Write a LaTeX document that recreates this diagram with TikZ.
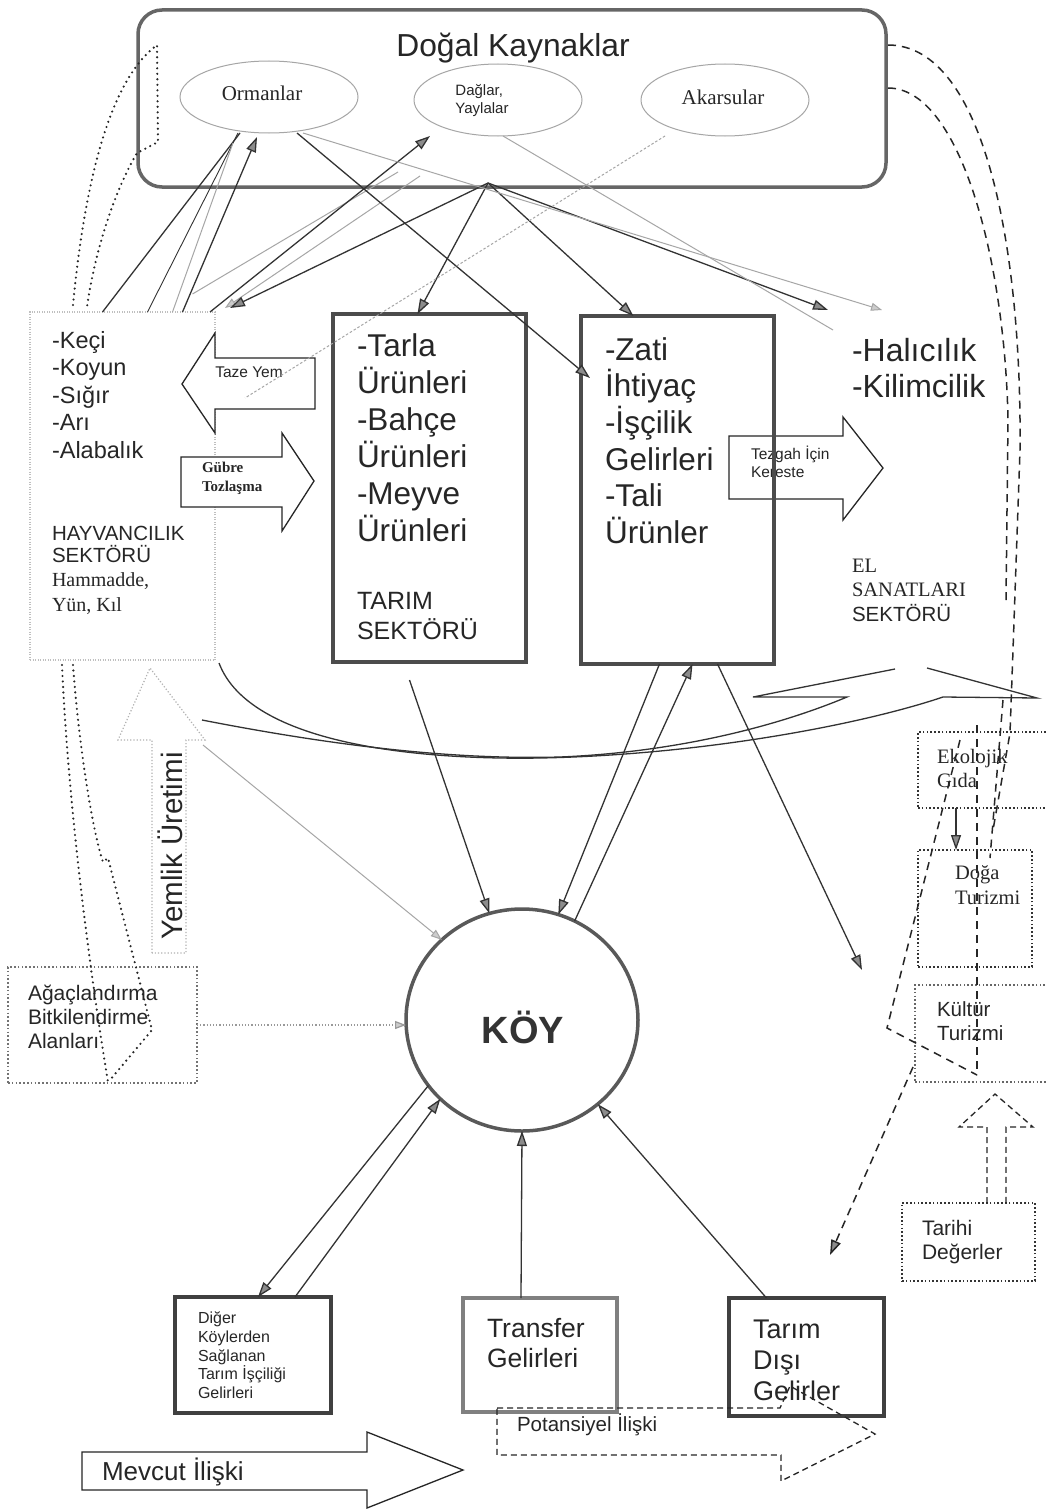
\documentclass[tikz,border=0pt]{standalone}
\usepackage{fontspec}
\setmainfont{Liberation Sans}
\newfontfamily\seriff{Liberation Serif}
\usetikzlibrary{arrows.meta,shapes.geometric}
\begin{document}
\begin{tikzpicture}[x=1pt,y=-1pt,
  txt/.style={inner sep=0pt, outer sep=0pt, align=left, anchor=base west, text=black!85},
  ln/.style={draw=black!80, line width=1.3pt},
  gln/.style={draw=black!35, line width=1pt},
  hd/.style={-{Triangle[length=15pt,width=10pt,fill=black!45]}},
  ghd/.style={-{Triangle[length=11pt,width=8pt,fill=black!20]}},
  thickbox/.style={draw=black!70, line width=4pt, inner sep=0pt, outer sep=0pt},
  dotbox/.style={draw=black!80, line width=1.6pt, dash pattern=on 1.6pt off 2.2pt, inner sep=0pt, outer sep=0pt},
  dsh/.style={draw=black!85, line width=1.5pt, dash pattern=on 8pt off 6pt},
  dts/.style={draw=black!85, line width=2.4pt, dash pattern=on 0pt off 5.5pt, line cap=round},
  blk/.style={draw=black!85, line width=1.3pt, fill=white},
  ell/.style={ellipse, draw=black!35, line width=1pt, inner sep=0pt, outer sep=0pt}
]
\fill[white] (0,0) rectangle (1045,1512);
\useasboundingbox (0,0) rectangle (1045,1512);

% ---------- Natural resources ----------
\node[draw=black!60, line width=3.5pt, rounded corners=24pt, minimum width=748pt, minimum height=177pt, inner sep=0pt, outer sep=0pt] (dogal) at (512,98.5) {};
\node[inner sep=0pt, text=black!85, font=\fontsize{31.8}{36}\selectfont] (dogalt) at (513,48) {Doğal Kaynaklar};
\node[ell, minimum width=178pt, minimum height=72pt] (orm) at (269,97) {};
\node[ell, minimum width=168pt, minimum height=72pt] (dag) at (498,100) {};
\node[ell, minimum width=168pt, minimum height=72pt] (aka) at (725,100) {};
\node[inner sep=0pt, text=black!85, font=\seriff\fontsize{21}{24}\selectfont] (ormt) at (262,93) {Ormanlar};
\node[inner sep=0pt, text=black!85, align=left, font=\fontsize{15}{18}\selectfont] (dagt) at (482,101) {Dağlar,\\Yaylalar};
\node[inner sep=0pt, text=black!85, font=\seriff\fontsize{21}{24}\selectfont] (akat) at (723,97) {Akarsular};

% ---------- Livestock ----------
\node[draw=black!25, line width=1.2pt, dash pattern=on 1pt off 1.5pt, minimum width=185pt, minimum height=348pt, inner sep=0pt, outer sep=0pt] (hayv) at (122.5,486) {};
\node[txt, font=\fontsize{23.5}{27.5}\selectfont] (hlist) at (52,458) {-Keçi\\-Koyun\\-Sığır\\-Arı\\-Alabalık};
\node[txt, font=\fontsize{20.5}{22}\selectfont] (hsek) at (52,562) {HAYVANCILIK\\SEKTÖRÜ};
\node[txt, font=\seriff\fontsize{20}{25}\selectfont] (hham) at (52,611) {Hammadde,\\Yün, Kıl};

% ---------- Agriculture ----------
\node[thickbox, minimum width=193pt, minimum height=348pt] (tarim) at (429.5,488) {};
\node[txt, font=\fontsize{31.5}{37}\selectfont] (tlist) at (357,541) {-Tarla\\Ürünleri\\-Bahçe\\Ürünleri\\-Meyve\\Ürünleri};
\node[txt, font=\fontsize{25}{30}\selectfont] (tsek) at (357,639.5) {TARIM\\SEKTÖRÜ};

% ---------- block arrows between sectors ----------
\draw[blk] (315,358) -- (215,358) -- (215,333) -- (182,384) -- (215,433) -- (215,409) -- (315,409) -- cycle;
\node[inner sep=0pt, text=black!85, font=\fontsize{15.5}{18}\selectfont] (tazet) at (249,372) {Taze Yem};
\draw[blk] (181,457) -- (282,457) -- (282,433) -- (314,481) -- (282,531) -- (282,507) -- (181,507) -- cycle;
\node[txt, font=\seriff\bfseries\fontsize{15}{19}\selectfont] (gubt) at (202,491) {Gübre\\Tozlaşma};
\draw[blk] (729,436) -- (843,436) -- (843,417) -- (883,468) -- (843,520) -- (843,499) -- (729,499) -- cycle;
\node[txt, font=\fontsize{15.5}{18}\selectfont] (tezt) at (751,477.5) {Tezgah İçin\\Kereste};

% ---------- Forest sector ----------
\node[thickbox, minimum width=193pt, minimum height=348pt] (orman) at (677.5,490) {};
\node[txt, font=\fontsize{31.5}{36.7}\selectfont] (olist) at (605,543.5) {-Zati\\İhtiyaç\\-İşçilik\\Gelirleri\\-Tali\\Ürünler};

% ---------- Handicrafts ----------
\node[txt, font=\fontsize{32}{36}\selectfont] (ellist) at (852,397) {-Halıcılık\\-Kilimcilik};
\node[txt, font=\fontsize{20.5}{24.5}\selectfont] (elsek) at (852,621) {{\seriff EL}\\{\seriff SANATLARI}\\SEKTÖRÜ};
\coordinate (elA) at (828,310);
\coordinate (elB) at (882,310);
\coordinate (elC) at (833,330);
\coordinate (tazein) at (245,398);
\coordinate (F) at (488,183);

% ---------- top connectors ----------
\draw[ln] ([xshift=-20pt]hayv.north) -- ([xshift=-29pt]orm.south);
\draw[ln, line width=0.9pt] ([xshift=25pt]hayv.north) -- ([xshift=-31pt]orm.south);
\draw[gln] ([xshift=50pt]hayv.north) -- ([xshift=-36pt,yshift=-10pt]orm.south);
\draw[ln, hd] ([xshift=60pt]hayv.north) -- ([xshift=-12pt,yshift=-4pt]orm.south);
\draw[gln] ([xshift=70pt,yshift=18pt]hayv.north) -- ([xshift=-100pt,yshift=-36pt]dag.south);
\draw[ln, hd] ([xshift=-5pt]hayv.north east) -- ([xshift=-68pt]dag.south);
\draw[gln, ghd] ([xshift=-78pt,yshift=-40pt]dag.south) -- ([xshift=10pt,yshift=4pt]hayv.north east);
\draw[ln, hd] (F) -- ([xshift=15pt,yshift=4pt]hayv.north east);
\draw[ln, hd] (F) -- ([xshift=-12pt]tarim.north);
\draw[ln, hd] (F) -- ([xshift=-44pt]orman.north);
\draw[ln, hd] (F) -- (elA);
\draw[ln, hd] ([xshift=28pt]orm.south) -- ([xshift=9pt,yshift=112pt]orman.west);
\draw[gln, ghd] ([xshift=34pt]orm.south) -- (elB);
\draw[gln] ([xshift=5pt]dag.south) -- (elC);
\draw[gln, dash pattern=on 2.5pt off 2pt] ([xshift=-60pt]aka.south) -- (tazein);

% ---------- Yemlik arrow ----------
\draw[draw=black!30, line width=1.2pt, dash pattern=on 1.2pt off 2pt] (152,953) -- (152,740) -- (118,740) -- (150,668) -- (205,740) -- (186,740) -- (186,953) -- cycle;
\node[rotate=90, inner sep=0pt, text=black!85, font=\fontsize{29.5}{32}\selectfont] (yemt) at (170,846) {Yemlik Üretimi};

% ---------- Afforestation ----------
\node[dotbox, draw=black!55, minimum width=189pt, minimum height=116pt] (agac) at (102.5,1025) {};
\node[txt, font=\fontsize{21}{24}\selectfont] (agact) at (28,1048) {Ağaçlandırma\\Bitkilendirme\\Alanları};

% left dotted curved arrows
\draw[dts] (73,305) .. controls (85,180) and (110,80) .. (157,45) -- (158,142) -- (137,153) .. controls (115,190) and (95,250) .. (87,307);
\draw[dts] (62,665) .. controls (68,800) and (88,960) .. (108,1082);
\draw[dts] (73,665) .. controls (80,760) and (95,840) .. (103,862) -- (108,858) -- (152,1030) -- (110,1080);

% ---------- big curved arrow to handicrafts ----------
\draw[ln] (219,663) .. controls (250,745) and (420,760) .. (540,758) .. controls (700,755) and (860,725) .. (943,697) -- (1037,698) -- (927,668);
\draw[ln] (202,720) .. controls (330,745) and (450,760) .. (560,757) .. controls (680,752) and (780,725) .. (847,697) -- (753,697) -- (895,669);

% ---------- KÖY ----------
\node[ellipse, draw=black!65, line width=3.5pt, minimum width=232pt, minimum height=222pt, inner sep=0pt, outer sep=0pt] (koy) at (522,1020) {};
\node[inner sep=0pt, text=black!80, font=\bfseries\fontsize{38}{40}\selectfont] (koyt) at (523,1027) {KÖY};

\draw[ln, hd] ([xshift=-20pt,yshift=-18pt]tarim.south) -- (koy.107);
\draw[ln, hd] ([xshift=-18pt]orman.south) -- (koy.71);
\draw[ln, hd] (koy.62) -- ([xshift=15pt]orman.south);
\coordinate (pdoga) at (862,970);
\draw[ln, hd] ([xshift=40pt]orman.south) -- (pdoga);
\draw[gln, ghd] ([xshift=-12pt,yshift=-85pt]hayv.south east) -- (koy.135);
\draw[draw=black!40, line width=1.2pt, dash pattern=on 1.2pt off 2pt, ghd] (agac.east) -- (agac.east -| koy.west);

% ---------- right side ----------
\node[dotbox, minimum width=140pt, minimum height=76pt] (ekol) at (988,770) {};
\node[txt, font=\seriff\fontsize{20.5}{24}\selectfont] (ekolt) at (937,787) {Ekolojik\\Gıda};
\node[dotbox, minimum width=114pt, minimum height=117pt] (doga) at (975,908.5) {};
\node[txt, font=\seriff\fontsize{20.5}{25}\selectfont] (dogat) at (955,904) {Doğa\\Turizmi};
\node[dotbox, draw=black!60, minimum width=140pt, minimum height=97pt] (kult) at (985,1033.5) {};
\node[txt, font=\fontsize{20.5}{24}\selectfont] (kultt) at (937,1040) {Kültür\\Turizmi};
\node[dotbox, minimum width=133pt, minimum height=78pt] (tarihi) at (968.5,1242) {};
\node[txt, font=\fontsize{21}{24}\selectfont] (tarihit) at (922,1259) {Tarihi\\Değerler};
\draw[ln, hd] ([xshift=-32pt]ekol.south) -- ([xshift=-19pt]doga.north);

\draw[dsh] (888,45) .. controls (985,45) and (1022,250) .. (1020,450) -- (1013,650) -- (1010,733) -- (993,830);
\draw[dsh] (888,88) .. controls (960,88) and (1005,260) .. (1008,420) -- (1006,600);
\draw[dsh] (1003,700) -- (990,858);
\draw[dsh] (977,725) -- (977,1075);
\draw[dsh] (960,740) -- (887,1028) -- (977,1075);
\coordinate (pdsh) at (830,1255);
\draw[dsh, hd] (913,1067) -- (pdsh);
\draw[dsh, line width=1.3pt, dash pattern=on 6pt off 4pt] (987,1203) -- (987,1127) -- (959,1127) -- (995,1094) -- (1033,1127) -- (1006,1127) -- (1006,1203);

% ---------- bottom boxes ----------
\node[thickbox, draw=black!75, minimum width=156pt, minimum height=116pt] (diger) at (253,1355) {};
\node[txt, font=\fontsize{16}{18.8}\selectfont] (digert) at (198,1398.7) {Diğer\\Köylerden\\Sağlanan\\Tarım İşçiliği\\Gelirleri};
\node[thickbox, draw=black!50, minimum width=154pt, minimum height=114pt] (transfer) at (540,1355) {};
\node[txt, font=\fontsize{26.5}{30}\selectfont] (transt) at (487,1367) {Transfer\\Gelirleri};
\node[thickbox, draw=black!75, minimum width=155pt, minimum height=118pt] (disi) at (806.5,1357) {};
\node[txt, font=\fontsize{27}{31}\selectfont] (disit) at (753,1400) {Tarım\\Dışı\\Gelirler};

\draw[ln, hd] (koy.215) -- ([xshift=5pt]diger.north);
\draw[ln, hd] ([xshift=42pt]diger.north) -- (koy.224);
\draw[ln, hd] ([xshift=-19pt]transfer.north) -- (koy.south);
\draw[ln, hd] ([xshift=-40pt]disi.north) -- (koy.-48);

% ---------- legend ----------
\draw[dsh, line width=1.3pt, dash pattern=on 6pt off 4pt] (497,1408) -- (780,1408) -- (790,1386) -- (875,1434) -- (781,1481) -- (781,1455) -- (497,1455) -- cycle;
\node[txt, anchor=west, font=\fontsize{20.5}{22}\selectfont] (pott) at (517,1425) {Potansiyel İlişki};
\draw[blk] (82,1452) -- (367,1452) -- (367,1432) -- (463,1470) -- (367,1508) -- (367,1490) -- (82,1490) -- cycle;
\node[txt, anchor=west, font=\fontsize{26}{28}\selectfont] (mevt) at (102,1472) {Mevcut İlişki};
\end{tikzpicture}
\end{document}
